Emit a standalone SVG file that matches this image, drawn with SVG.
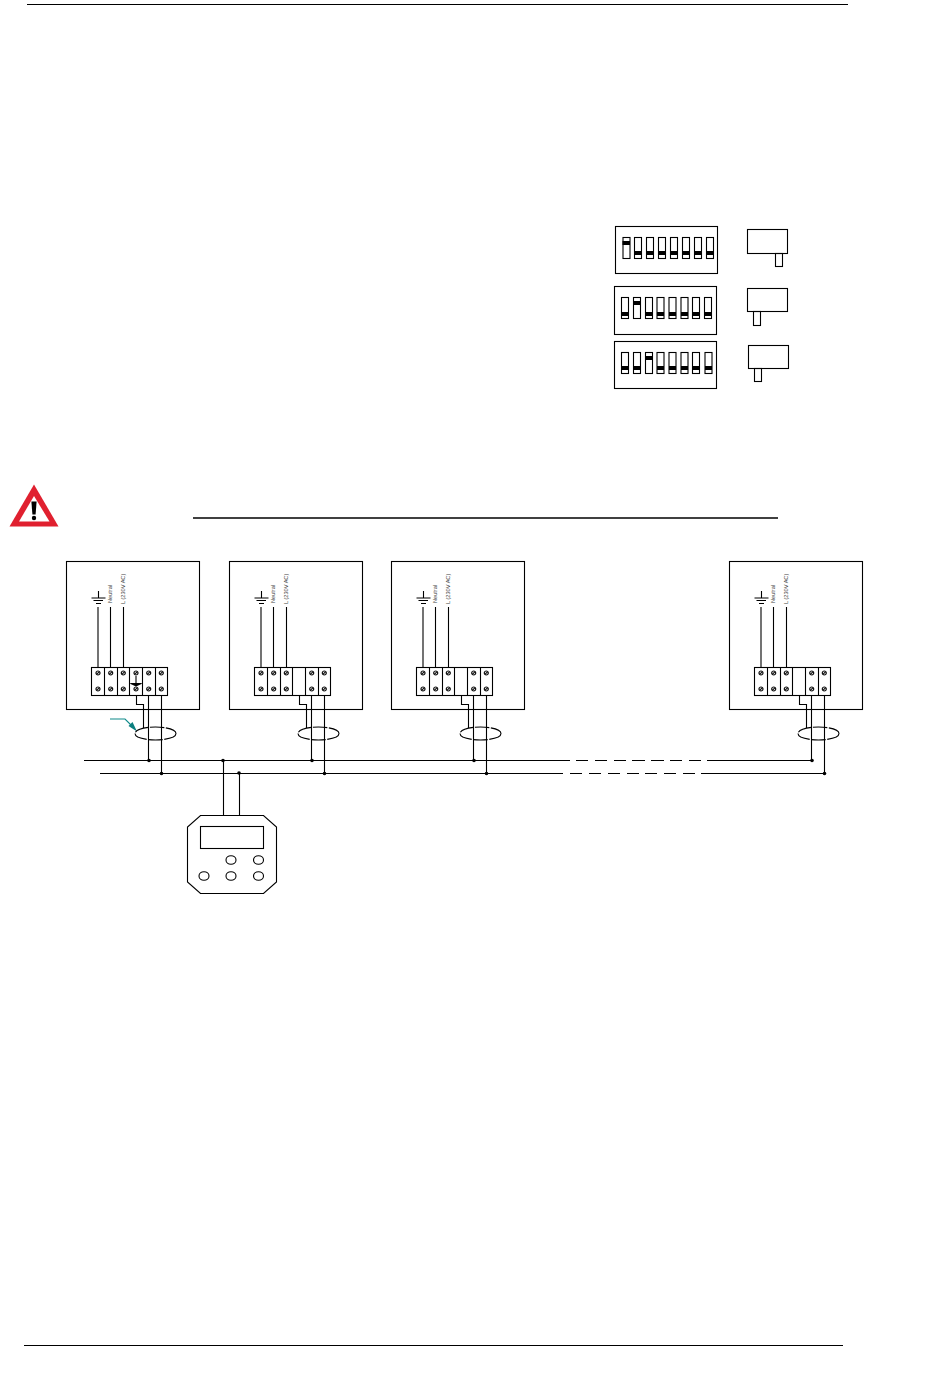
<svg xmlns="http://www.w3.org/2000/svg" xmlns:xlink="http://www.w3.org/1999/xlink" width="950" height="1378" viewBox="0 0 950 1378">
<style>
.l{fill:none;stroke:#000;stroke-width:1.1}
.w{fill:#fff;stroke:#000;stroke-width:1.1}
.k{fill:#000;stroke:none}
.t{font-family:"Liberation Sans",Arial,sans-serif;font-size:5.6px;fill:#444}
.s{fill:none;stroke:#111;stroke-width:1.2}
.d{fill:none;stroke:#000;stroke-width:1.1;stroke-dasharray:14 1.5}
</style>
<defs>
<g id="screw"><circle class="s" r="2"/><path class="s" d="M-1.4 1.4L1.4-1.4"/></g>
<g id="sw"><rect class="w" x="0" y="0" width="7" height="21"/></g>
<g id="module">
<rect class="l" x="66.5" y="561.5" width="133" height="148"/>
<path class="l" d="M98.5 591V598M91.5 598H105.5M93.5 600.5H103M96 603.5H101M98 607V667.5M110.5 607V667.5M123.5 607V667.5"/>
<text class="t" transform="translate(111.5 603) rotate(-90)">Neutral</text>
<text class="t" transform="translate(124.5 604) rotate(-90)">L (230V AC)</text>
<rect class="l" x="91.5" y="667.5" width="76" height="28"/>
<path class="l" d="M104.5 667.5V695.5M117.5 667.5V695.5M129.5 667.5V695.5M142.5 667.5V695.5M155.5 667.5V695.5"/>
<use href="#screw" x="98" y="673"/><use href="#screw" x="98" y="689"/>
<use href="#screw" x="110.7" y="673"/><use href="#screw" x="110.7" y="689"/>
<use href="#screw" x="123.3" y="673"/><use href="#screw" x="123.3" y="689"/>
<use href="#screw" x="148.7" y="673"/><use href="#screw" x="148.7" y="689"/>
<use href="#screw" x="161.3" y="673"/><use href="#screw" x="161.3" y="689"/>
<ellipse class="d" cx="155.5" cy="733.5" rx="20.5" ry="6.5"/>
<path class="l" d="M136.5 695.5V704.5H143.5V728M148.5 695.5V760.5M161.5 695.5V773.5"/>
<circle class="k" cx="149" cy="760.5" r="1.8"/>
<circle class="k" cx="161.5" cy="773.5" r="1.8"/>
</g>
</defs>

<g id="page-rules">
<path class="l" d="M27 4.5H848M24 1345.5H843"/>
<path d="M193 518H778" fill="none" stroke="#000" stroke-width="1.6"/>
</g>

<g id="warning">
<path d="M34 484.5L58.5 526.5H9.5Z" fill="#e0202f"/>
<path d="M34 496L49.5 521.5H19Z" fill="#fff"/>
<path d="M31.4 501.5H36.6L35.6 514.5H32.4Z" class="k"/>
<circle class="k" cx="34" cy="518" r="2.2"/>
</g>

<g id="dip1">
<rect class="l" x="615.5" y="226.5" width="102" height="47"/>
<use href="#sw" x="623" y="237.5"/><use href="#sw" x="634.5" y="237.5"/><use href="#sw" x="646.5" y="237.5"/><use href="#sw" x="658.5" y="237.5"/><use href="#sw" x="670.5" y="237.5"/><use href="#sw" x="682.5" y="237.5"/><use href="#sw" x="694.5" y="237.5"/><use href="#sw" x="706.5" y="237.5"/>
<path class="k" d="M622.5 241h7.5v4h-7.5zM634.5 251h7v4h-7zM646.5 251h7v4h-7zM658.5 251h7v4h-7zM670.5 251h7v4h-7zM682.5 251h7v4h-7zM694.5 251h7v4h-7zM706.5 251h7v4h-7z"/>
</g>
<g id="dip1-side">
<rect class="l" x="747.5" y="229.5" width="40" height="24"/>
<rect class="l" x="775.5" y="253.5" width="7" height="13"/>
</g>

<g id="dip2">
<rect class="l" x="614.5" y="286.5" width="102" height="48"/>
<use href="#sw" x="621.5" y="297.5"/><use href="#sw" x="633.5" y="297.5"/><use href="#sw" x="645.5" y="297.5"/><use href="#sw" x="657" y="297.5"/><use href="#sw" x="669" y="297.5"/><use href="#sw" x="681" y="297.5"/><use href="#sw" x="692.5" y="297.5"/><use href="#sw" x="704.5" y="297.5"/>
<path class="k" d="M621.5 312h7v4h-7zM633.5 301h7v4h-7zM645.5 312h7v4h-7zM657 312h7v4h-7zM669 312h7v4h-7zM681 312h7v4h-7zM692.5 312h7v4h-7zM704.5 312h7v4h-7z"/>
</g>
<g id="dip2-side">
<rect class="l" x="747.5" y="288.5" width="40" height="23"/>
<rect class="l" x="753.5" y="311.5" width="7" height="14"/>
</g>

<g id="dip3">
<rect class="l" x="614.5" y="341.5" width="102" height="47"/>
<use href="#sw" x="621.5" y="352.5"/><use href="#sw" x="633.5" y="352.5"/><use href="#sw" x="645.5" y="352.5"/><use href="#sw" x="657" y="352.5"/><use href="#sw" x="669" y="352.5"/><use href="#sw" x="681" y="352.5"/><use href="#sw" x="692.5" y="352.5"/><use href="#sw" x="705" y="352.5"/>
<path class="k" d="M621.5 366h7v4h-7zM633.5 366h7v4h-7zM645.5 356h7v4h-7zM657 366h7v4h-7zM669 366h7v4h-7zM681 366h7v4h-7zM692.5 366h7v4h-7zM705 366h7v4h-7z"/>
</g>
<g id="dip3-side">
<rect class="l" x="748.5" y="345.5" width="40" height="23"/>
<rect class="l" x="754.5" y="368.5" width="7" height="13"/>
</g>

<g id="connectors">
<path class="l" d="M84 760.5H570M576 760.5H588M595 760.5H607M614 760.5H626M632 760.5H645M651 760.5H664M670 760.5H682M689 760.5H701M707 760.5H812"/>
<path class="l" d="M100 773.5H563M570 773.5H582M589 773.5H601M608 773.5H620M627 773.5H639M645 773.5H657M664 773.5H676M683 773.5H695M701 773.5H825"/>
<path class="l" d="M223.5 760.5V815.5M239.5 773.5V815.5"/>
<circle class="k" cx="223" cy="760.5" r="1.8"/>
<circle class="k" cx="239" cy="773" r="1.8"/>
<path d="M110 719H125L131 725" fill="none" stroke="#0f8a8a" stroke-width="1.1"/>
<path d="M128.5 726L132.5 722L137 731.5Z" fill="#0b7f7f"/>
</g>

<g id="module-1">
<use href="#module"/>
<path class="k" d="M129.5 683.5H142.5L136 686.5Z"/>
<path class="l" d="M136 676V684M130.5 683.5H141.5"/>
<use href="#screw" x="136" y="673"/><use href="#screw" x="136" y="689"/>
</g>
<g id="module-2"><use href="#module" x="163"/></g>
<g id="module-3"><use href="#module" x="325"/></g>
<g id="module-4"><use href="#module" x="663"/></g>

<g id="controller">
<path class="l" d="M200.5 815.5H263.5L276.5 827V882L263.5 893.5H200.5L187.5 882V827Z"/>
<rect class="l" x="200.5" y="826.5" width="63" height="22"/>
<ellipse class="l" cx="231" cy="860" rx="5" ry="4.3"/>
<ellipse class="l" cx="258.5" cy="860" rx="5" ry="4.3"/>
<ellipse class="l" cx="204" cy="876" rx="5" ry="4.3"/>
<ellipse class="l" cx="231" cy="876" rx="5" ry="4.3"/>
<ellipse class="l" cx="258.5" cy="876" rx="5" ry="4.3"/>
</g>
</svg>
